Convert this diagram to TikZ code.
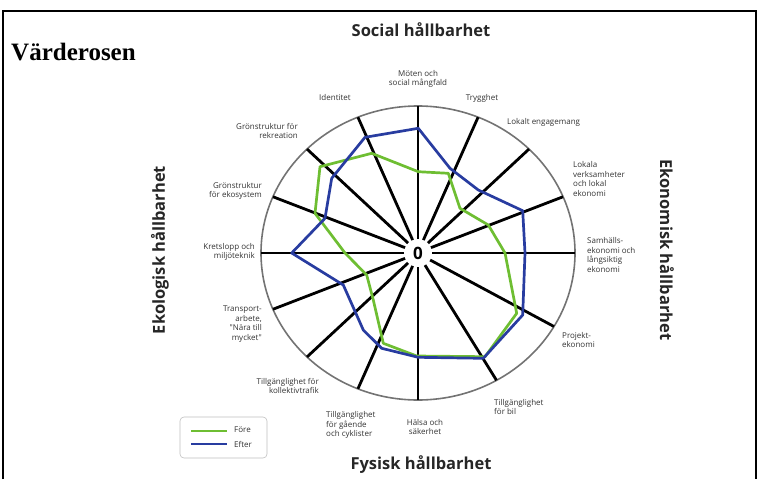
\documentclass[tikz,border=0pt]{standalone}
\usepackage{fontspec}
\setmainfont{Liberation Serif}
\newfontfamily\lab{Open Sans}
\tikzset{
  lbl/.style={font=\lab\fontsize{8}{9.6}\selectfont, text=black!80, inner sep=0pt, align=left},
  lblr/.style={lbl, align=right},
  lblc/.style={lbl, align=center},
  hdr/.style={font=\lab\bfseries\fontsize{16.5}{18}\selectfont, text=black!85, inner sep=0pt},
  spoke/.style={line width=2.8pt, black},
}
\definecolor{gr}{RGB}{110,190,50}
\definecolor{bl}{RGB}{40,60,160}
\begin{document}
\begin{tikzpicture}[x=1pt,y=-1pt]
\useasboundingbox (0,0) rectangle (759,479);
\draw[line width=1.3pt] (3,479) -- (3,11) -- (756,11) -- (756,479);
\node[anchor=west, font=\bfseries\fontsize{25}{28}\selectfont, inner sep=0pt] (title) at (11,52) {Värderosen};
% circle
\draw[line width=1.6pt, black!55] (418,253) ellipse [x radius=157, y radius=147];
\foreach \a in {90,67.5,45,22.5,0,-30,-60,-90,-112.5,-135,-157.5,180,157.5,135,112.5}
  \draw[spoke] ({418+14*cos(\a)},{253-14*sin(\a)}) -- ({418+157*cos(\a)},{253-147*sin(\a)});
\node[font=\lab\bfseries\fontsize{17}{17}\selectfont] (zero) at (418,253) {0};
% polygons
\draw[line width=2.7pt, gr, line join=round] (418.3,171.7) -- (448.3,173.3) -- (460,208.3) -- (488.3,225) -- (505,253) -- (516.7,313.3) -- (485,356.7) -- (416.7,356) -- (383.3,343.3) -- (373.3,300) -- (366.7,275) -- (345,253) -- (315,213.3) -- (320,166.7) -- (371.7,153.3) -- cycle;
\draw[line width=2.7pt, bl, line join=round] (418.3,128.3) -- (450,168.3) -- (478.3,190) -- (522.7,210.7) -- (525,253) -- (522.7,315) -- (483.3,358.3) -- (418.3,357.3) -- (381.7,348.3) -- (363.3,330) -- (343.3,285) -- (291.7,253) -- (325,218.3) -- (331.7,178.3) -- (365,137.3) -- cycle;
% labels
\node[lblc] (l1) at (418,79) {Möten och\\social mångfald};
\node[lbl] (l2) at (482,98) {Trygghet};
\node[lbl, anchor=west] (l3) at (507,122) {Lokalt engagemang};
\node[lbl, anchor=west] (l4) at (573,179) {Lokala\\verksamheter\\och lokal\\ekonomi};
\node[lbl, anchor=west] (l5) at (587,255) {Samhälls-\\ekonomi och\\långsiktig\\ekonomi};
\node[lbl, anchor=west] (l6) at (562,340) {Projekt-\\ekonomi};
\node[lbl, anchor=west] (l7) at (494,407) {Tillgänglighet\\för bil};
\node[lblc] (l8) at (425,427) {Hälsa och\\säkerhet};
\node[lbl, anchor=west] (l9) at (326,425) {Tillgänglighet\\för gående\\och cyklister};
\node[lblr, anchor=east] (l10) at (319,386) {Tillgänglighet för\\kollektivtrafik};
\node[lblr, anchor=east] (l11) at (262,324) {Transport-\\arbete,\\"Nära till\\mycket"};
\node[lblr, anchor=east] (l12) at (255,252) {Kretslopp och\\miljöteknik};
\node[lblr, anchor=east] (l13) at (262,191) {Grönstruktur\\för ekosystem};
\node[lblr, anchor=east] (l14) at (298,131) {Grönstruktur för\\rekreation};
\node[lbl] (l15) at (335,97) {Identitet};
% headers
\node[hdr] (h1) at (421,30) {Social hållbarhet};
\node[hdr, rotate=-90] (h2) at (667,250) {Ekonomisk hållbarhet};
\node[hdr, rotate=90] (h3) at (160,250) {Ekologisk hållbarhet};
\node[hdr] (h4) at (421,465) {Fysisk hållbarhet};
% legend
\draw[rounded corners=4pt, black!25, line width=0.6pt] (180,417) rectangle (267,458);
\draw[line width=2.2pt, gr] (191,431) -- (227,431);
\draw[line width=2.2pt, bl] (191,444) -- (227,444);
\node[lbl, anchor=west] (f) at (234,430) {Före};
\node[lbl, anchor=west] (e) at (234,444) {Efter};
\end{tikzpicture}
\end{document}
